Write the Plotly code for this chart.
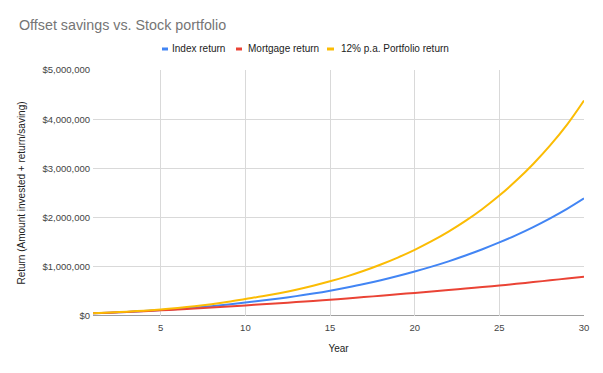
import plotly.graph_objects as go

years = list(range(1, 31))
index_return = [55e3, 68e3, 83e3, 100e3, 120e3, 143e3, 169e3, 200e3, 235e3, 275e3,
                313e3, 356e3, 404e3, 457e3, 515e3, 580e3, 650e3, 728e3, 812e3, 904e3,
                1003e3, 1111e3, 1229e3, 1357e3, 1495e3, 1645e3, 1808e3, 1985e3, 2177e3, 2390e3]
mortgage_return = [55e3, 68e3, 82e3, 98e3, 115e3, 133e3, 151e3, 172e3, 193e3, 215e3,
                   237e3, 260e3, 283e3, 306e3, 330e3, 357e3, 384e3, 412e3, 441e3, 470e3,
                   499e3, 528e3, 558e3, 589e3, 620e3, 654e3, 689e3, 725e3, 762e3, 800e3]
portfolio_return = [55e3, 70e3, 88e3, 109e3, 134e3, 163e3, 198e3, 240e3, 289e3, 345e3,
                    400e3, 463e3, 534e3, 615e3, 705e3, 806e3, 920e3, 1047e3, 1188e3, 1345e3,
                    1520e3, 1715e3, 1933e3, 2176e3, 2448e3, 2752e3, 3090e3, 3467e3, 3890e3, 4380e3]

x_ticks = [5, 10, 15, 20, 25, 30]
y_ticks = [0, 1e6, 2e6, 3e6, 4e6, 5e6]
y_labels = ["$0", "$1,000,000", "$2,000,000", "$3,000,000", "$4,000,000", "$5,000,000"]

series = [
    ("Index return", index_return, "#4285F4"),
    ("Mortgage return", mortgage_return, "#EA4335"),
    ("12% p.a. Portfolio return", portfolio_return, "#FBBC04"),
]

font = "Arial, Liberation Sans, sans-serif"
fig = go.Figure()
for name, vals, color in series:
    fig.add_trace(go.Scatter(x=years, y=vals, name=name, mode="lines", showlegend=False,
                             line=dict(color=color, width=2, shape="spline")))

# custom compact legend (plot-paper coordinates)
legend_pos = [(0.1405, 0.1527, 0.1609), (0.2912, 0.3035, 0.3157), (0.4766, 0.4908, 0.5051)]
ly = 1.0854
for (name, _, color), (s0, s1, tx) in zip(series, legend_pos):
    fig.add_shape(type="line", xref="paper", yref="paper", x0=s0, x1=s1, y0=ly, y1=ly,
                  line=dict(color=color, width=3))
    fig.add_annotation(text=name, xref="paper", yref="paper", x=tx, y=ly,
                       xanchor="left", yanchor="middle", showarrow=False, xshift=-2,
                       font=dict(family=font, size=10, color="#222222"))

fig.update_layout(
    width=595, height=365,
    margin=dict(l=85, r=19, t=62, b=57),
    paper_bgcolor="white", plot_bgcolor="white",
    font=dict(family=font, size=10, color="#222222"),
    title=dict(text="Offset savings vs. Stock portfolio", x=0.0185, xanchor="left",
               y=0.9534, yanchor="middle",
               font=dict(family=font, size=14.3, color="#757575")),
    xaxis=dict(range=[1, 30], tickvals=x_ticks, showgrid=True, gridcolor="#d9d9d9",
               zeroline=False, showline=False, ticks="", ticklabelstandoff=4,
               tickfont=dict(family=font, size=9.5, color="#444444"),
               title=dict(text="Year", font=dict(family=font, size=10, color="#222222"),
                          standoff=13)),
    yaxis=dict(range=[0, 5e6], tickvals=y_ticks, ticktext=y_labels, showgrid=True,
               gridcolor="#d9d9d9", zeroline=False, showline=False, ticks="",
               ticklabelstandoff=2,
               tickfont=dict(family=font, size=9.5, color="#444444"),
               title=dict(text="Return (Amount invested + return/saving)",
                          font=dict(family=font, size=10, color="#222222"), standoff=14)),
)
fig.add_shape(type="line", xref="paper", yref="y", x0=0, x1=1, y0=0, y1=0,
              line=dict(color="#9e9e9e", width=2), layer="below")

fig.write_html("out.html")
